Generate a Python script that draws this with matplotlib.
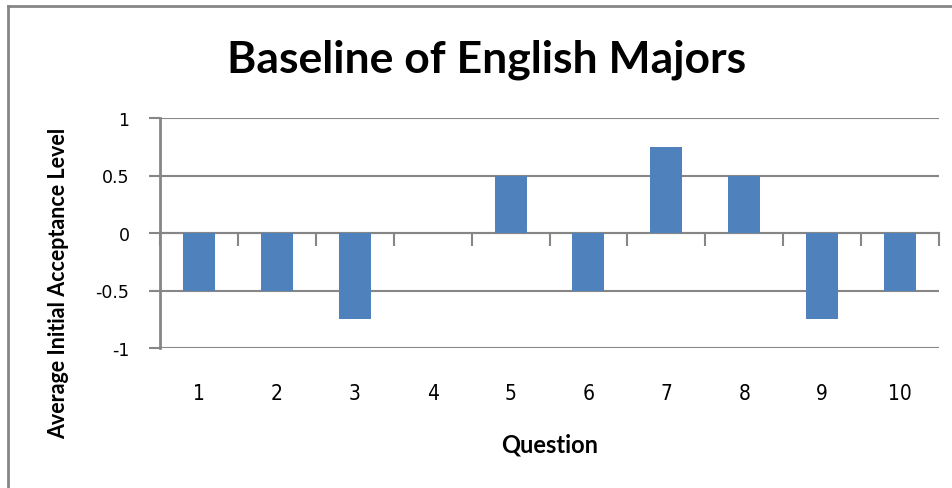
import matplotlib
matplotlib.use("Agg")
import matplotlib.pyplot as plt
from matplotlib.lines import Line2D

questions = [1, 2, 3, 4, 5, 6, 7, 8, 9, 10]
acceptance = [-0.5, -0.5, -0.75, 0, 0.5, -0.5, 0.75, 0.5, -0.75, -0.5]
y_ticks = [-1, -0.5, 0, 0.5, 1]
y_tick_labels = ["-1", "-0.5", "0", "0.5", "1"]

W, H = 952, 489
grey = "#868686"

fig = plt.figure(figsize=(W / 100, H / 100), dpi=100)
ax = fig.add_axes([160 / W, 1 - 349 / H, (939 - 160) / W, (349 - 119) / H])

ax.bar(questions, acceptance, width=0.41, color="#4F81BD", zorder=3)

ax.set_xlim(0.5, 10.5)
ax.set_ylim(-1, 1)
ax.set_yticks(y_ticks)
ax.set_yticklabels(y_tick_labels, fontsize=12.5, fontfamily="DejaVu Sans")
ax.yaxis.grid(True, color=grey, linewidth=1.5, zorder=0)
ax.tick_params(axis="y", length=8, width=1.5, color=grey, pad=14)

# horizontal axis sits on zero; ticks at category boundaries
ax.spines["bottom"].set_position(("data", 0))
ax.spines["bottom"].set_color(grey)
ax.spines["bottom"].set_linewidth(1.5)
ax.spines["left"].set_color(grey)
ax.spines["left"].set_linewidth(2)
ax.spines["top"].set_visible(False)
ax.spines["right"].set_visible(False)

ax.set_xticks([q + 0.5 for q in [0] + questions])
ax.set_xticklabels([])
ax.tick_params(axis="x", which="major", length=9, width=1.5, color=grey)
ax.set_xticks(questions, minor=True)
ax.set_xticklabels([str(q) for q in questions], minor=True, fontsize=15,
                   fontfamily="DejaVu Sans", fontstretch="condensed")
ax.tick_params(axis="x", which="minor", length=0, pad=108)

ax.set_xlabel("Question", fontsize=17, fontweight="bold", fontfamily="Lato")
ax.xaxis.set_label_coords((550 - 160) / 779, (349 - 445) / 230)
ax.xaxis.label.set_va("center")
ax.set_ylabel("Average Initial Acceptance Level", fontsize=15.5,
              fontweight="bold", fontfamily="Lato")
ax.yaxis.set_label_coords((69 - 160) / 779, (349 - 283) / 230)

fig.text(487 / W, 1 - 60 / H, "Baseline of English Majors", ha="center",
         va="center", fontsize=32, fontweight="bold", fontfamily="Lato")

# chart frame
fig.add_artist(Line2D([8 / W, 8 / W], [0, 1 - 7 / H], color=grey, lw=2))
fig.add_artist(Line2D([8 / W, 1], [1 - 7 / H, 1 - 7 / H], color=grey, lw=2))

fig.savefig("out.png", dpi=100)
